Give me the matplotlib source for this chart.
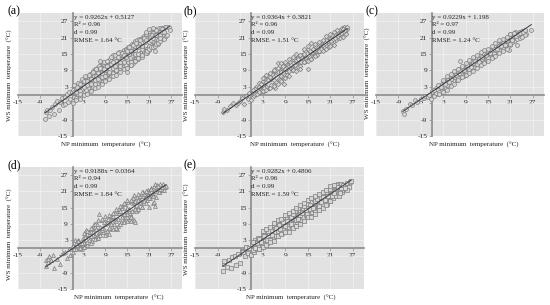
import matplotlib
matplotlib.use("Agg")
import matplotlib.pyplot as plt

plt.rcParams['font.family'] = ['Liberation Serif', 'DejaVu Serif']

# === Data ===
a_x = [[-7.6,-7.3,-7,-6.6,-6.2,-5.8,-5.2,-4.8,-4.2,-3.8,-3.4,-3,-2.6,-2.2,-2,-1.6,-1.2,-1,-0.6,-0.3,0,0.2,0.5,0.8,1,1.2,1.5,1.7,2,2.2,2.5,2.8,3,3.2,3.5,3.7,4,4.2,4.4,4.7,5,5.2,5.4,5.7,6,6.2,6.4,6.7,7,7.2,7.5,7.7,8,8.2,8.5,8.7,9,9.2,9.4,9.7,10,10.2,10.5,10.7,11,11.2,11.5,11.7,12,12.2,12.5,12.7,13,13.2,13.5,13.7,14,14.2,14.5,14.7,15,15.2,15.5,15.7,16,16.2,16.5,16.7,17,17.2,17.5,17.7,18,18.2,18.5,18.7,19,19.2,19.5,19.7,20,20.2,20.5,20.7,21,21.2,21.5,21.7,22,22.2,22.5,22.7,23,23.2,23.5,23.7,24,24.2,24.5,24.7,25,25.2,25.5,25.7,26,26.3,26.6],
       [0.4,1.4,2.4,3.4,4.6,5.6,6.6,7.6,8.6,9.6,10.6,11.6,12.6,13.6,14.6,15.6,16.6,17.6,18.6,19.6,20.6,21.6,22.6,23.6,24.6],
       [0.9,2.1,3.1,4.1,5.1,6.1,7.1,8.1,9.1,10.1,11.1,12.1,13.1,14.1,15.1,16.1,17.1,18.1,19.1,20.1,21.1,22.1,23.1,24.1,25.1],
       [1.1,2.6,3.6,4.9,5.9,6.9,7.9,8.9,9.9,10.9,11.9,12.9,13.9,14.9,15.9,16.9,17.9,18.9,19.9,20.9,21.9,22.9,23.9],
       [0,1,2,3,4,5,6,7,8,9,10,11,12,13,14,15,16,17,18,19],
       [0.5,1.5,2.5,3.5,4.5,5.5,6.5,7.5,8.5,9.5,10.5,11.5,12.5,13.5,14.5,15.5,16.5,17.5,18.5,19.5],
       [2,3,4,5,6,7,8,9,10,11,12,13,14,15,16,17,18,19,20,21],
       [20,20.5,21,21.5,22,22.5,23,23.5,24,24.5,6.5,7.5,8.5,9.5,10.5,11.5,12.5,13.5,14.5,15.5],
       [1,2,3,4,5,6,7,8,9,10,11,12,13,14,15,16,17,18,19,20],
       [15,16,17,18,19,20,20.5,21,21.5,22,22.5,23,23.5,24,20,21,22,23,24,25]]
a_y = [[-8.6,-6.2,-5.4,-7.6,-5.6,-4.4,-6.8,-3.4,-2.2,-5.6,-2.6,-1,-3.6,-0.6,-3.2,0.2,-2.6,1.2,-1.4,1,-2.2,2,-0.6,2.6,-1.6,3.4,0.4,2.4,-0.6,4.6,0.8,5.2,1,5.6,2.6,6.6,1.6,7,3,7.6,2.2,8.2,3.6,8.8,3,9.4,4.6,10,4.4,10.6,5,12,5,11.4,6.2,11,5.6,12,7.2,12.6,7.6,13.2,7,14,8,14.6,9,13.8,8.6,15,9.2,15.6,10,15,10.4,16,11,16.6,10.8,17,8.4,17.6,12.4,18,12.8,18.6,11.8,19,13.6,19.6,13.8,20,14.4,20.4,15.4,20.6,15.6,21.2,15.8,21.6,17,22,17,22.2,16.4,22.8,18.6,23,18,23.6,16.2,24,19.4,23.8,18.6,24.4,20,24.6,21,24.4,20.6,25,21.6,25,22,24.8,23.8],
       [1.2,2.6,0.8,5,6,3,8.4,6,10,7.6,12.4,9.4,13,11.6,14,13.6,16,14.4,18,16.2,20.6,18.2,22.6,20,24],
       [-1,1.4,4.2,2.6,4.8,7.4,5.4,8.6,9,11,9.6,12,11.4,15.4,12,17.4,14.6,18.8,17.4,21,18.8,22.8,20.6,23,23],
       [2.8,3.6,2,6.4,6.8,7.8,9.8,10.4,8,11.8,11,13.2,14.4,14.6,15.2,16.4,17.8,17.8,19.4,19.4,21.8,20.6,22.4],
       [-3,-2,-1.5,0,0.5,1.5,2.5,3,4,5,6,7,7.5,8.5,9.5,10,11,12.5,13,14],
       [3.5,4.5,6,7,7.5,8.5,9.5,12.5,12,12.6,14,14.5,15.2,15.5,16.4,17.4,18.4,19.2,20,21],
       [4,5,3.5,6,5.5,8,8,9,11,10,12.5,12,14.5,13,16,15,17.5,17,20,18],
       [22.5,15.5,23.5,20,21,22,23.8,20,22,23,7,10,9.5,10.5,11.5,10.5,13.8,13,14,15],
       [1,0.5,3,5,4,4,6,6.5,7,8.5,12,9,10.5,12,16,12,16.5,15,18,16],
       [10,11,12.6,13.6,14.6,15.2,16,16.8,17.4,17.6,18,18.6,19.2,19.6,23,24,24.6,22,21,23]]

b_x = [[-7.6,-7.2,-6.4,-5.6,-5,-4.2,-3.6,-3,-2.4,-2,-1.4,-1,-0.5,0,0.4,0.8,1.2,1.6,2,2.3,2.7,3,3.4,3.7,4,4.4,4.8,5.2,5.5,5.9,6.2,6.6,7,7.3,7.7,8,8.4,8.8,9.1,9.5,10,10.4,10.8,11.2,11.7,12,12.5,13,13.4,13.9,14.3,14.8,15.2,15.7,16.1,16.6,17,17.5,18,18.4,18.9,19.3,19.8,20.2,20.6,21,21.3,21.6,22,22.2,22.5,22.8,23,23.2,23.5,23.7,24,24.2,24.5,24.7,25,25.2,25.5],
       [1,2.5,3.5,4.6,5.7,6.8,7.9,8.9,10.2,11,12.2,13.2,14.5,15.5,16.4,17.8,18.6,19.6,20.4,21.1,21.8,22.4,23.1,23.6,24.1,24.6,25.1,25.4],
       [20.8,21.5,22.1,22.7,23.3,23.9,24.4,24.9,5.2,6.2,7.5,8.6,9.8,6.4,12.9,15.1],
       [1,2,3,4,5,6,7,8,9,10,11,12,13,14,15,16,17,18,19,20],
       [0.5,1.5,2.5,3.5,4.5,5.5,6.5,7.5,8.5,9.5,10.5,11.5,12.5,13.5,14.5,15.5,16.5,17.5,18.5,19.5],
       [2,3,4,5,6,7,8,9,10,11,12,13,14,15,16,17,18,19,20,21],
       [3,4,5,6,7,8,9,10,11,12,13,14,15,16,17,18,19,20,21,22]]
b_y = [[-6.4,-5.2,-5.6,-4.2,-3,-3.6,-2.8,-2.2,-1.2,-3.2,-0.4,-1.4,0.6,-2,1.4,-0.4,2.8,0.6,4.4,1,3.4,5.2,1.6,3.2,4.8,7,2.6,6,8.2,3.8,8.8,4.8,11.8,6,9.4,7,10,6.6,11.4,8.4,8.8,11.8,9,13.2,10,11.4,14,11.6,14.8,12.2,16.2,13.4,17,14,15.2,14.6,17.8,15.6,18.6,16,17,19.4,18.2,20.6,18.6,20.8,18.2,21.4,19.8,22.2,20,22.6,21,23,20.8,23.8,22,24.4,21.4,24.8,23,24.6,24.2],
       [2.2,1.4,6.4,5.6,6.8,8.2,5.4,9.6,12,11.6,12.8,12.2,13,15.8,16.6,16.2,18,19.6,19.6,19.8,20.6,21,21.6,22.4,23.4,23,22.2,24.8],
       [17.6,22,18.4,23.8,22.4,22.8,24,23.6,3.8,2.4,8.6,4,10.8,9.6,14.4,9.6],
       [0.5,3,3.8,3,6.5,5.5,8.5,8.5,7.2,10.5,9.4,12.8,10.6,15,12.8,13.2,14.8,16.6,18.4,20],
       [2,0.2,4.2,2.6,5.6,7.6,9.2,5.4,10.6,7.4,11,10.8,13,13.4,12.4,16,16.8,14.6,17,19],
       [1,1.6,1.8,2.4,3.4,4,5.2,6.2,7,9,8.8,9.6,12.2,12.6,13,14.2,16.2,16,17,18],
       [6.2,7.4,8,9,10,11.6,12.2,13,14,15,14.6,16.8,18,19,18.8,19.4,20.2,21.6,22.4,23]]

c_x = [[-7.8,-7.6,-7,-6,-5.4,-4.6,-4,-3,-2.2,-1.8,-1.2,-0.8,-0.4,0,0.4,0.8,1.2,1.5,1.9,2.2,2.6,3,3.3,3.7,4,4.4,4.8,5.2,5.6,6,6.4,6.8,7.2,7.6,8,8.4,8.8,9.2,9.6,10,10.4,10.8,11.2,11.6,12,12.4,12.8,13.2,13.6,14,14.4,14.8,15.2,15.6,16,16.4,16.8,17.2,17.6,18,18.4,18.8,19.2,19.6,20,20.4,20.8,21.2,21.6,22,22.4,22.8,23.2,23.6,24,24.4,24.8,25.2,26.6],
       [1,2,3.1,4.2,5.3,6.4,7.4,8.5,9.5,10.6,11.7,12.7,13.8,14.9,15.9,17,18.1,19.1,20.2,21.3,22.2,23.3,24.3],
       [0.6,1.7,2.8,3.9,5,6.1,7.2,8.2,9.3,10.3,11.4,12.5,13.5,14.6,15.7,16.7,17.8,18.9,19.9,21,22,23,24.1,25,7.6,22.8,16.3,20.6],
       [1,2,3,4,5,6,7,8,9,10,11,12,13,14,15,16,17,18,19,20],
       [0.5,1.5,2.5,3.5,4.5,5.5,6.5,7.5,8.5,9.5,10.5,11.5,12.5,13.5,14.5,15.5,16.5,17.5,18.5,19.5],
       [20.5,21,21.5,22,22.5,23,23.5,24,24.5,25],
       [2,3,4,5,6,7,8,9,10,11,12,13,14,15,16,17,18,19,20,21],
       [3,4,5,6,7,8,9,10,11,12,13,14,15,16,17,18,19,20,21,22]]
c_y = [[-5.8,-6.8,-5,-3.4,-3.8,-1.8,-2.4,-1.4,-1,-0.2,-0.6,0,-1.4,1.4,1.2,0.4,2.4,0.2,3.2,1,4,2,4.6,2.6,6,3.4,7,4,8,5,8.8,5.6,9.4,6.6,9.8,7.4,10.4,8,10.8,9,12.4,9.6,13,10.2,13.6,11,14.2,12,14.8,12.8,15.6,13.4,16.2,14.2,17,15,18.4,15.6,18.8,16.4,18.8,17.4,19.4,18,20.2,18.6,20.8,19.4,21.4,19.6,22.4,20.4,23,21,23.4,22,23.8,22.2,23.8],
       [1.8,3,4.8,5.6,4.4,7.4,9.2,7,11,11.2,12.4,12.4,15,13.6,16.4,16.4,18.2,19,19.6,19.4,23,22.4,22.8],
       [-0.4,2,1.6,4.6,6.4,7.8,6.2,9,9.8,9.6,11.4,13,13.2,15,16.2,15.4,17.4,17.6,20.6,22.4,21.6,22,23.4,21.8,12.6,18.2,13.8,16.6],
       [0.6,1.2,5,3.6,5.8,8,6.2,9.8,7.4,9.4,11.8,11.2,14.4,12,15.4,14,16.6,18,17,20],
       [1.8,3.6,3,4,4.8,7,7.4,8.6,9.2,11,10.4,12.6,12.2,14,14.6,15.2,17,17,17.8,18.4],
       [21.2,18.4,20.2,22.8,21.6,22.2,22.8,21.4,23.2,23.6],
       [0.4,1,2,3.4,4.2,5.6,6.6,7.2,8.2,8.8,10,11,11.6,12.4,13.4,14.4,15.4,16,17,18.6],
       [5.4,6.8,7.6,8.8,9.6,10.6,11.8,12.8,13.8,14.8,15.6,16.4,17,18,19,20,20.6,21.2,22.4,22.6]]

d_x = [[-7.4,-7.3,-6.9,-6.8,-6.6,-6,-5.4,-5,-4.2,-3.6,-2.6,-2,-1.6,-1,-0.6,-0.2,0.2,0.6,1,1.4,1.7,2,2.4,2.8,3.2,3.6,4,4.3,4.7,5,5.4,5.8,6.2,6.6,7,7.2,7.6,8,8.4,8.8,9.2,9.6,10,10.4,10.8,11.2,11.6,12,12.4,12.8,13.2,13.6,14,14.4,14.8,15.2,15.6,16,16.4,16.8,17.2,17.6,18,18.4,18.8,19.2,19.6,20,20.4,20.8,21.2,21.6,22,22.4,22.8,23.2,23.6,24,24.4,24.8,25.2,25.6],
       [0.8,1.8,3,4.5,5.6,7.4,8.6,10.2,11.4,12.6,13.8,15,16.5,17.7,18.6,19.4,20.2,21,21.8,22.6,23.4,24.2,25],
       [21.4,22.2,23,23.8,24.6,22.6,21.8,15.6,16,16.8,17.2,14.6,13.6,12.2,10.8,9.4,6.8,5.2,3.6,2.6,1.3,0.2],
       [1,2,3,4,5,6,7,8,9,10,11,12,13,14,15,16,17,18,19,20],
       [0.5,1.5,2.5,3.5,4.5,5.5,6.5,7.5,8.5,9.5,10.5,11.5,12.5,13.5,14.5,15.5,16.5,17.5,18.5,19.5],
       [20.5,21,21.5,22,22.5,23,23.5,24,24.5,25],
       [2,3,4,5,6,7,8,9,10,11,12,13,14,15,16,17,18,19,20,21],
       [3,4,5,6,7,8,9,10,11,12,13,14,15,16,17,18,19,20,21,22]]
d_y = [[-4.4,-6.4,-5,-4,-3,-4.4,-2.6,-7.4,-3.8,-5.6,-1.8,-1.2,-3.4,-0.2,-2.6,0.6,-1.4,3.2,-0.2,3,0.6,2,-0.4,3.8,1.2,6.6,1.4,6.2,3.4,7,2.8,8.8,4.6,9,5.4,12.8,6,10.4,6.2,9,5.4,11,7,12,8,11.2,10.4,13.6,8.2,14.4,9.8,15.6,10.4,16.4,11.6,17,13,17.4,13.6,19.6,14.8,18.8,15.4,19.4,16.6,20.6,17.4,20,17.8,21.6,18.4,22.4,16.6,23,19,23.4,20.6,23.6,21.4,23.8,22.6,23],
       [1.2,2.6,3,6,5,8,7.2,9.6,9,13,12.2,12.8,16.6,14.2,18,19.2,19.4,20.8,20.2,23.6,22,22.4,22.6],
       [22,17.2,21.8,20.8,21.6,15.6,19.8,10.8,10,10.6,9.6,14,11.6,7,11.6,6.4,3.8,7.6,4.8,1.6,1.4,0.8],
       [2,0.6,2,5.4,4.6,8,4.4,6.6,10,7.4,12,10,13.6,12.6,15,12,17,18,15.4,19],
       [-0.4,2.8,1.8,4.2,3,6,7.2,5,9.6,9.4,8.8,13,11,15,13.6,14.6,18.6,13.6,17,20],
       [21,19.4,22,20.4,21.2,22.8,23,22,22.8,21.4],
       [0.2,0.4,2.4,2,3.4,3.8,7.4,4.8,5.4,7,7.6,9,9.6,10,11.4,14.4,14.6,15.4,16.6,15.4],
       [5.6,6.4,7.6,9,10.4,10.8,12,12.4,13,14.4,15.6,16.8,17.8,18,17.4,20,20.8,21,18.4,19.4]]

e_x = [[-7.6,-7.4,-7.2,-6.6,-6,-5.4,-5.2,-4.4,-4,-3.6,-3,-2.6,-2.2,-1.8,-1.4,-1,-0.6,-0.2,0.2,0.6,1,1.3,1.7,2,2.4,2.8,3.2,3.5,3.9,4.3,4.7,5,5.4,5.8,6.2,6.6,7,7.4,7.8,8.2,8.6,9,9.4,9.8,10.2,10.6,11,11.4,11.8,12.2,12.6,13,13.4,13.8,14.2,14.6,15,15.4,15.8,16.2,16.6,17,17.4,17.8,18.2,18.6,19,19.4,19.8,20.2,20.6,21,21.4,21.8,22.2,22.6,23,23.4,23.8,24.2,24.6,25,25.5,26,26.4,26.6],
       [0.4,1.5,2.6,3.7,4.9,6,7.1,8.2,9.2,10.3,11.3,12.4,13.5,14.5,15.6,16.7,17.7,18.8,19.8,20.9,22,23.1,24.1],
       [0.8,1.9,3,4.1,5.2,6.3,7.3,8.4,9.5,10.5,11.6,12.7,13.7,14.8,15.9,16.9,18,19.1,20.1,21.2,22.4,23.5,25.5],
       [1,2,3,4,5,6,7,8,9,10,11,12,13,14,15,16,17,18,19,20],
       [0.5,1.5,2.5,3.5,4.5,5.5,6.5,7.5,8.5,9.5,10.5,11.5,12.5,13.5,14.5,15.5,16.5,17.5,18.5,19.5],
       [20.5,21,21.5,22,22.5,23,23.5,24,24.5,25],
       [2,3,4,5,6,7,8,9,10,11,12,13,14,15,16,17,18,19,20,21],
       [3,4,5,6,7,8,9,10,11,12,13,14,15,16,17,18,19,20,21,22]]
e_y = [[-8.2,-5.6,-4.6,-7,-4.4,-7.4,-3.2,-2.8,-6,-2,-5.4,-0.8,-1.4,-2.8,0.4,-1.8,0.2,-2.6,1.6,-1.2,3.2,0.2,3.8,-0.2,2.8,0.6,5,2,6.4,1.8,5.8,3,7.4,3.8,9.4,4.6,9.6,5.4,10,5.8,10.8,7,11.6,7.8,12.2,8.6,13,9.2,14,9.6,14.8,10.6,15.4,11.4,16,12.4,16.2,12.8,17,13.4,18.2,14,18.8,15,19,15.6,18.6,16.8,20,16.4,21.6,17.4,22.6,18.6,23,19.2,23.6,19.4,23.8,20.8,23.2,22,24.2,22.8,24.6,24.8],
       [-0.6,2.4,3.8,6,3.6,7.2,8,9,10,11,12.2,11.6,13.6,13.6,16,15.4,16.6,17.6,18.6,19.2,20.6,22.6,21.4],
       [1.2,1,4.2,3.2,6.8,6.2,8.6,6.6,9,11.4,10.4,12.6,14.8,12.6,14.6,17.4,17.6,16.2,20,20.2,21.2,21,21.4],
       [0,3.6,1.6,6.4,3.2,8.6,6.4,10.6,8.4,9.6,12.8,10.6,12.4,15.6,15,15,17.6,15.6,19,20.8],
       [2.4,1.8,2.4,4.4,6.4,5,7.6,7,9.6,10.2,9,13.6,11,13,14,14.4,14.8,18.2,17.2,18],
       [19.4,22,19.4,20.4,23.4,22.8,20.4,22.4,23.4,22.2],
       [-0.4,0.4,1.4,2.2,2.6,4.4,5.2,6.2,6,7.4,8.4,8.8,10,11.6,11.6,12.6,14,15,15.8,17.6],
       [6.4,7,8,9.4,10.6,11,12.4,13.2,13.6,15,15.8,16.8,18,18.6,19.4,20,20.8,21.6,23,23.4]]

panel_names = ['(a)', '(b)', '(c)', '(d)', '(e)']
slopes = [0.9262, 0.9364, 0.9229, 0.9188, 0.9282]
intercepts = [0.5127, 0.3821, 1.198, -0.0364, 0.4806]
equations = ['y = 0.9262x + 0.5127', 'y = 0.9364x + 0.3821', 'y = 0.9229x + 1.198',
             'y = 0.9188x \u2212 0.0364', 'y = 0.9282x + 0.4806']
r2_labels = ['R\u00b2 = 0.96', 'R\u00b2 = 0.96', 'R\u00b2 = 0.97', 'R\u00b2 = 0.94', 'R\u00b2 = 0.96']
d_labels = ['d = 0.99'] * 5
rmse_labels = ['RMSE = 1.64 \u00b0C', 'RMSE = 1.51 \u00b0C', 'RMSE = 1.24 \u00b0C',
               'RMSE = 1.84 \u00b0C', 'RMSE = 1.59 \u00b0C']
tick_vals = [-15, -9, -3, 3, 9, 15, 21, 27]
x_tick_labels = ['-15', '-9', '-3', '3', '9', '15', '21', '27']
y_tick_labels = ['-15', '-9', '', '3', '9', '15', '21', '27']  # -3 is buried under the points
xs = [a_x, b_x, c_x, d_x, e_x]
ys = [a_y, b_y, c_y, d_y, e_y]

# panel boxes in pixels: left, right, top, bottom
W, H = 550, 305
boxes = [(18, 182, 13, 136), (195, 364, 13, 136), (376, 544, 13, 136),
         (18, 182, 167, 289), (195, 364, 167, 289)]
markers = ['o', 'D', 'o', '^', 's']
msizes = [8, 5.5, 8, 8, 7]
xlabel_centers = [106, 295, 474, 119, 291]
ylabel_centers = [75, 75, 73, 234, 229]

fig = plt.figure(figsize=(W / 100, H / 100), dpi=100)

for i in range(5):
    l, r, t, b = boxes[i]
    ax = fig.add_axes([l / W, 1 - b / H, (r - l) / W, (b - t) / H])
    ax.set_facecolor('#e2e2e2')
    ax.set_xlim(-15, 30)
    ax.set_ylim(-15, 30)
    ax.set_xticks(tick_vals, x_tick_labels)
    ax.set_yticks(tick_vals, y_tick_labels)
    ax.grid(True, color='#f2f2f2', lw=0.5)
    ax.set_axisbelow(True)
    for s in ['top', 'right']:
        ax.spines[s].set_visible(False)
    for s in ['left', 'bottom']:
        ax.spines[s].set_position('zero')
        ax.spines[s].set_color('#8c8c8c')
        ax.spines[s].set_linewidth(1.2)
    ax.tick_params(length=2, width=0.5, color='#8c8c8c', labelsize=5.3, pad=1.5, labelcolor='#222222')

    px = sum(xs[i], [])
    py = sum(ys[i], [])
    ax.scatter(px, py, s=msizes[i], marker=markers[i], facecolor='#d6d6d6',
               edgecolor='#7f7f7f', linewidth=0.5, zorder=3)
    x0, x1 = min(px), max(px)
    ax.plot([x0, x1], [slopes[i] * x0 + intercepts[i], slopes[i] * x1 + intercepts[i]],
            color='#3a3a44', lw=0.7, zorder=4)

    lines = [equations[i], r2_labels[i], d_labels[i], rmse_labels[i]]
    for j, line in enumerate(lines):
        fig.text((l + 56) / W, 1 - (t + 4 + j * 8) / H, line, fontsize=5, color='#222222',
                 ha='left', va='center', zorder=5)

    fig.text(xlabel_centers[i] / W, 1 - (b + 9) / H, 'NP minimum  temperature  (\u00b0C)',
             fontsize=5, color='#222222', ha='center', va='center')
    fig.text((l - 8) / W, 1 - ylabel_centers[i] / H, 'WS minimum  temperature  (\u00b0C)',
             fontsize=5, color='#222222', rotation=90, ha='center', va='center')
    fig.text((l - 11) / W, 1 - (t - 2) / H, panel_names[i], fontsize=8.5, color='black',
             ha='left', va='center')

fig.savefig('out.png', dpi=100, facecolor='white')
